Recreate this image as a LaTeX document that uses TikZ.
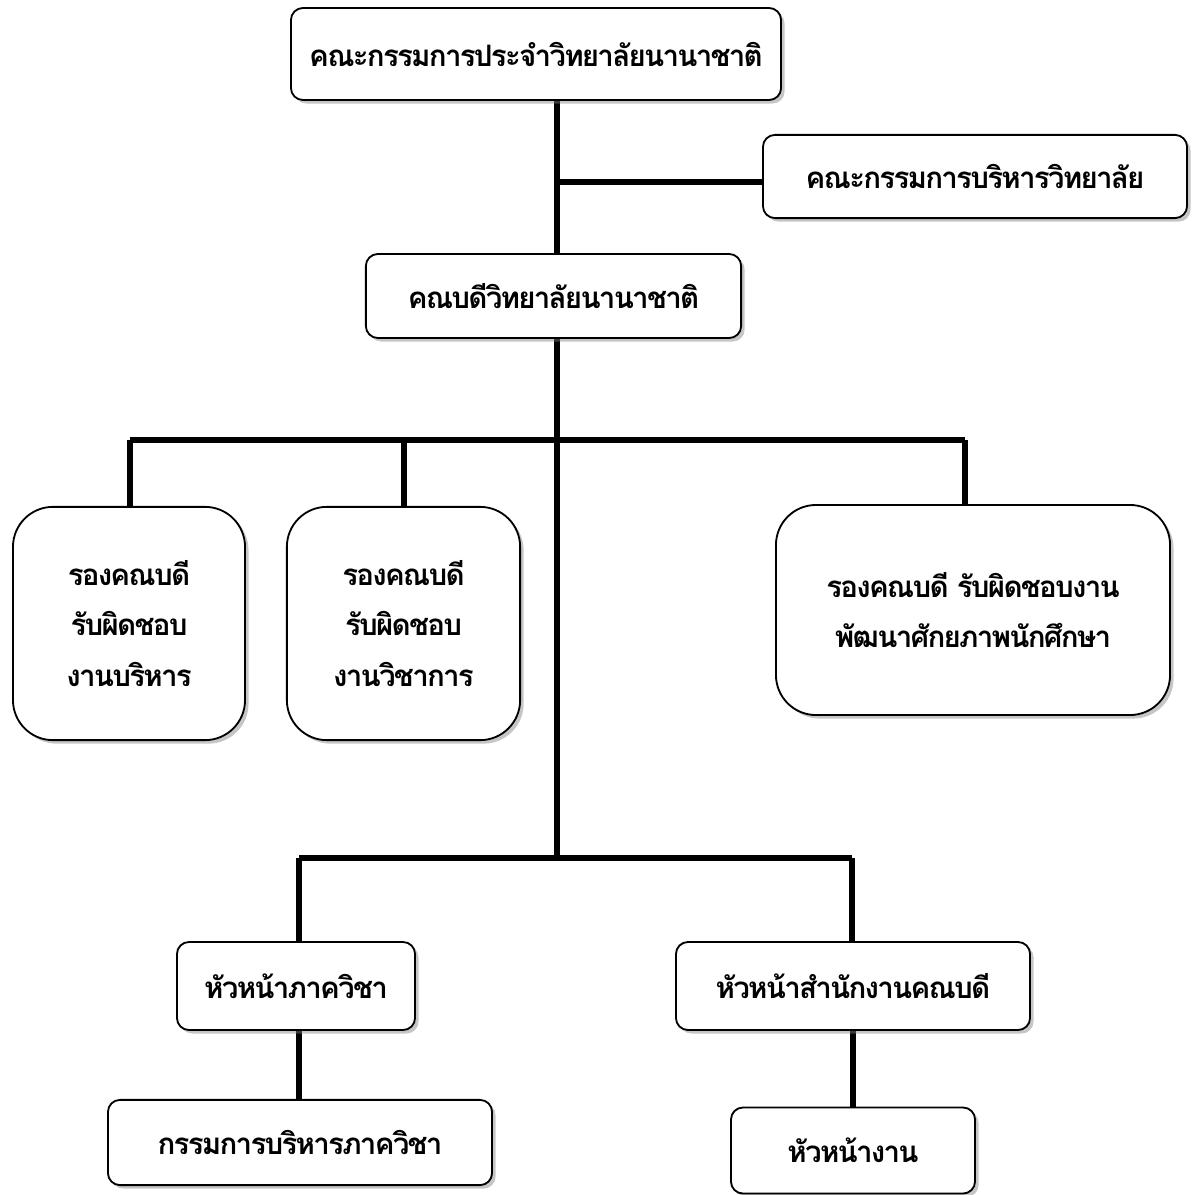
\documentclass[tikz,border=0pt]{standalone}
\usepackage{fontspec}
\newfontfamily\thaifont[Script=Thai,LetterSpace=-6]{Loma}
\usepackage{tikz}
\usetikzlibrary{arrows,%
                shapes,positioning,shadows}

\tikzset{
  box/.style={draw, line width=1.3pt, fill=white, rounded corners=0.3cm,
    align=center, font=\thaifont\bfseries\fontsize{21}{36}\selectfont,
    drop shadow={shadow xshift=2.5pt, shadow yshift=-2.5pt, opacity=0.45}},
  tallbox/.style={box, rounded corners=1cm},
  conn/.style={line width=3.6pt}
}

\begin{document}
\begin{tikzpicture}[x=0.025cm,y=-0.025cm]
\useasboundingbox (0,0) rectangle (1194,1195);
\coordinate (sp) at (557,0);
\coordinate (bus1) at (0,440);
\coordinate (bus2) at (0,858);
\coordinate (stc) at (965,0);
% connectors
\draw[conn] (sp |- 0,100) -- (sp |- 0,254);
\draw[conn] (sp |- 0,182) -- (763,182);
\draw[conn] (sp |- 0,338) -- (sp |- bus2);
\draw[conn] (130,440) -- (stc |- bus1);
\draw[conn] (130,440) -- (130,507);
\draw[conn] (404,440) -- (404,507);
\draw[conn] (stc |- bus1) -- (965,505);
\draw[conn] (299,858) -- (852,858);
\draw[conn] (299,858) -- (299,942);
\draw[conn] (852,858) -- (852,942);
\draw[conn] (299,1030) -- (299,1100);
\draw[conn] (853,1030) -- (853,1108);
% boxes
\node[box, minimum width=12.25cm, minimum height=2.3cm] (top) at (536,54) {คณะกรรมการประจำวิทยาลัยนานาชาติ};
\node[box, minimum width=10.6cm, minimum height=2.08cm] (board) at (975,176.5) {คณะกรรมการบริหารวิทยาลัย};
\node[box, minimum width=9.38cm, minimum height=2.1cm] (dean) at (553.5,296) {คณบดีวิทยาลัยนานาชาติ};
\node[tallbox, minimum width=5.8cm, minimum height=5.83cm] (vA) at (129,623.5) {รองคณบดี\\รับผิดชอบ\\งานบริหาร};
\node[tallbox, minimum width=5.83cm, minimum height=5.83cm] (vB) at (403.5,623.5) {รองคณบดี\\รับผิดชอบ\\งานวิชาการ};
\node[tallbox, minimum width=9.85cm, minimum height=5.25cm] (vC) at (973,610) {รองคณบดี รับผิดชอบงาน\\พัฒนาศักยภาพนักศึกษา};
\node[box, minimum width=5.95cm, minimum height=2.2cm] (head) at (296,986) {หัวหน้าภาควิชา};
\node[box, minimum width=8.85cm, minimum height=2.2cm] (office) at (853,986) {หัวหน้าสำนักงานคณบดี};
\node[box, minimum width=9.6cm, minimum height=2.13cm] (cmt) at (300,1142.5) {กรรมการบริหารภาควิชา};
\node[box, minimum width=6.1cm, minimum height=2.15cm] (unit) at (853,1150.5) {หัวหน้างาน};
\end{tikzpicture}
\end{document}
